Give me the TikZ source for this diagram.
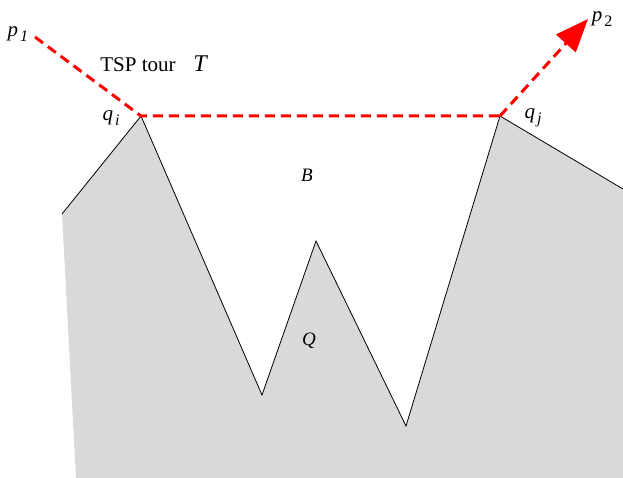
\documentclass[tikz,border=0pt]{standalone}
\usepackage{fontspec}
\setmainfont{Liberation Serif}
\usetikzlibrary{arrows.meta}

\newcommand{\vlabel}[2]{\textit{#1}\kern2pt\raisebox{-0.5ex}{\fontsize{16}{16}\selectfont #2}}

\tikzset{
  tour/.style={red, line width=3pt, dash pattern=on 10pt off 6pt},
  lab/.style={inner sep=0pt, font=\fontsize{21}{24}\selectfont}
}

\begin{document}
\begin{tikzpicture}[x=1pt, y=-1pt, >={Triangle[length=33pt,width=26pt]}]
  \useasboundingbox (0,0) rectangle (623,478);

  % polygon Q
  \fill[gray!30] (62,214) -- (141,116) -- (262,395) -- (316,241) -- (406,426)
    -- (500,116) -- (623,189) -- (623,478) -- (76,478) -- cycle;
  \draw[line width=0.8pt] (62,214) -- (141,116) -- (262,395) -- (316,241)
    -- (406,426) -- (500,116) -- (623,189);

  \coordinate (p1) at (35,37);
  \coordinate (qi) at (141,116);
  \coordinate (qj) at (500,116);
  \coordinate (p2) at (588,19);

  % tour T
  \draw[tour] (p1) -- (qi) -- (qj);
  \draw[tour, ->] (qj) -- (p2);

  \node[lab] (p1lab) at (18,34) {\vlabel{p}{\textit{1}}};
  \node[lab] (p2lab) at (602,19) {\vlabel{p}{2}};
  \node[lab] (qilab) at (111,118) {\vlabel{q}{\textit{i}}};
  \node[lab] (qjlab) at (533,118) {\vlabel{q}{\textit{j}}};
  \node[lab] (tsp) at (138,65) {TSP tour};
  \node[lab, font=\fontsize{24}{26}\selectfont\itshape] (tlab) at (200,64) {T};
  \node[lab, font=\fontsize{19}{22}\selectfont\itshape] (blab) at (307,175) {B};
  \node[lab, font=\fontsize{19}{22}\selectfont\itshape] (qlab) at (309,341) {Q};
\end{tikzpicture}
\end{document}
